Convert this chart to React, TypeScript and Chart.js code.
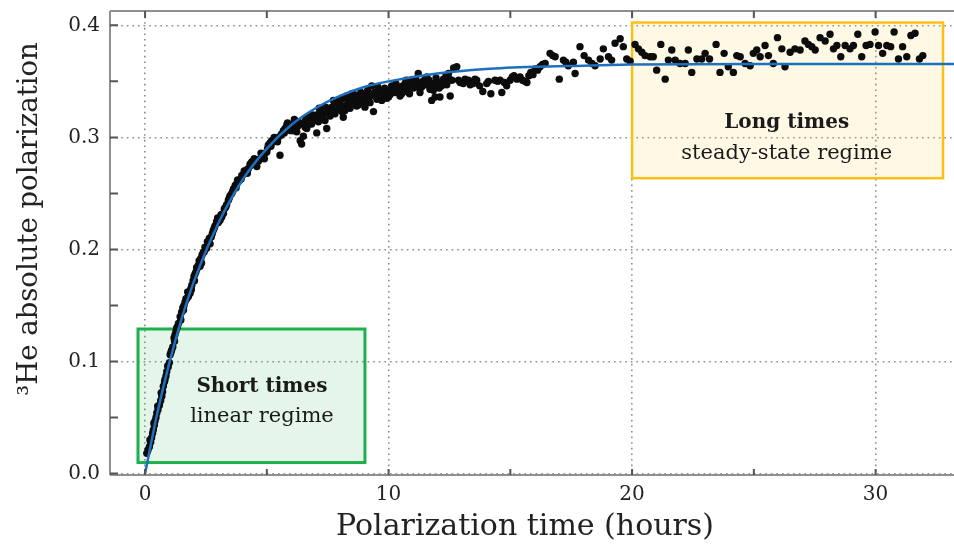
import React, { useEffect, useRef } from "react";
import { Chart, registerables } from "chart.js";

Chart.register(...registerables);

// ---- Measured data (hours, absolute polarization) ----
const timeHours = [
  0.07, 0.12, 0.18, 0.23, 0.27, 0.31, 0.34, 0.38, 0.41, 0.45, 0.48, 0.53, 0.59, 0.64, 0.69, 0.72, 0.75, 0.82, 0.86, 0.89,
  0.95, 1.0, 1.03, 1.09, 1.14, 1.19, 1.23, 1.27, 1.33, 1.37, 1.44, 1.5, 1.55, 1.6, 1.64, 1.71, 1.78, 1.85, 1.88, 1.92,
  1.97, 2.01, 2.05, 2.09, 2.14, 2.19, 2.26, 2.29, 2.34, 2.39, 2.46, 2.53, 2.6, 2.67, 2.72, 2.8, 2.87, 2.94, 3.01, 3.08,
  3.15, 3.22, 3.28, 3.35, 3.42, 3.49, 3.56, 3.63, 3.7, 3.77, 3.84, 3.9, 3.97, 4.04, 4.1, 4.17, 4.24, 4.31, 4.38, 4.45,
  4.52, 4.59, 4.66, 4.72, 4.79, 4.86, 4.93, 5.0, 5.06, 5.13, 5.2, 5.27, 5.34, 5.4, 5.47, 5.54, 5.61, 5.68, 5.75, 5.82,
  5.88, 5.95, 6.02, 6.09, 6.09, 6.16, 6.23, 6.23, 6.3, 6.37, 6.43, 6.5, 6.57, 6.64, 6.71, 6.78, 6.84, 6.91, 6.98, 7.05,
  7.05, 7.12, 7.19, 7.19, 7.26, 7.32, 7.39, 7.46, 7.53, 7.6, 7.67, 7.73, 7.8, 7.87, 7.94, 8.01, 8.08, 8.14, 8.21, 8.28,
  8.35, 8.42, 8.49, 8.55, 8.62, 8.69, 8.76, 8.83, 8.9, 8.97, 9.03, 9.1, 9.17, 9.24, 9.31, 9.38, 9.45, 9.52, 9.58, 9.65,
  9.72, 9.79, 9.86, 9.92, 9.99, 10.06, 10.13, 10.2, 10.27, 10.34, 10.4, 10.47, 10.54, 10.61, 10.68, 10.75, 10.81, 10.88, 10.95, 11.02,
  11.09, 11.16, 11.22, 11.29, 11.36, 11.43, 11.5, 11.57, 11.63, 11.7, 11.77, 11.84, 11.91, 11.98, 12.05, 12.11, 12.18, 12.25, 12.32, 12.39,
  12.46, 12.53, 12.6, 12.67, 12.8, 12.87, 12.94, 13.07, 13.14, 13.28, 13.35, 13.48, 13.55, 13.62, 13.74, 13.87, 14.03, 14.1, 14.2, 14.37,
  14.48, 14.58, 14.65, 14.75, 14.85, 14.99, 15.08, 15.15, 15.27, 15.4, 15.5, 15.6, 15.68, 15.76, 15.84, 15.93, 16.02, 16.12, 16.22, 16.32,
  16.43, 16.63, 16.74, 16.84, 17.01, 17.18, 17.28, 17.38, 17.59, 17.66, 17.86, 18.03, 18.21, 18.35, 18.48, 18.69, 18.82, 19.03, 19.16, 19.3,
  19.51, 19.64, 19.78, 19.92, 20.12, 20.26, 20.4, 20.53, 20.74, 20.87, 21.01, 21.18, 21.36, 21.49, 21.63, 21.77, 21.97, 22.18, 22.31, 22.45,
  22.66, 22.86, 23.0, 23.18, 23.45, 23.61, 23.78, 23.95, 24.16, 24.3, 24.44, 24.64, 24.85, 24.98, 25.12, 25.26, 25.46, 25.6, 25.8, 25.97,
  26.15, 26.28, 26.49, 26.69, 26.9, 27.1, 27.24, 27.38, 27.52, 27.72, 27.93, 28.13, 28.27, 28.41, 28.57, 28.75, 28.95, 29.09, 29.27, 29.43,
  29.61, 29.77, 29.98, 30.12, 30.29, 30.46, 30.62, 30.76, 30.94, 31.11, 31.28, 31.45, 31.62, 31.8, 31.94,
  // second, overlapping run of readings in the dense band
  0.2, 0.36, 0.52, 0.66, 0.8, 0.93, 1.06, 1.21, 1.3, 1.47, 1.58, 1.68, 1.75, 1.9, 2.03, 2.12, 2.22, 2.32, 2.43, 2.56,
  2.64, 2.76, 2.84, 2.98, 3.12, 3.25, 3.32, 3.46, 3.6, 3.74, 3.8, 3.95, 4.07, 4.2, 4.34, 4.48, 4.62, 4.76, 4.9, 5.03,
  5.17, 5.3, 5.44, 5.58, 5.72, 5.85, 5.98, 6.13, 6.27, 6.46, 6.6, 6.74, 6.88, 7.0, 7.15, 7.3, 7.42, 7.57, 7.7, 7.9,
  8.05, 8.18, 8.32, 8.45, 8.6, 8.72, 8.86, 9.0, 9.14, 9.28, 9.42, 9.56, 9.7, 9.84, 10.0, 10.16, 10.3, 10.44, 10.58, 10.72,
  10.86, 11.0, 11.12, 11.26, 11.4, 11.54, 11.66, 11.8, 11.95, 12.08, 12.22, 12.36, 12.5,
];

const polarization = [
  0.018, 0.021, 0.024, 0.028, 0.032, 0.036, 0.039, 0.043, 0.047, 0.05, 0.054, 0.057, 0.061, 0.065, 0.069, 0.073, 0.078, 0.084, 0.087, 0.091,
  0.095, 0.099, 0.106, 0.11, 0.113, 0.121, 0.124, 0.127, 0.131, 0.134, 0.14, 0.144, 0.148, 0.15, 0.153, 0.156, 0.158, 0.161, 0.165, 0.168,
  0.172, 0.176, 0.178, 0.18, 0.183, 0.186, 0.185, 0.192, 0.195, 0.197, 0.202, 0.201, 0.205, 0.205, 0.211, 0.217, 0.221, 0.225, 0.224, 0.226,
  0.229, 0.232, 0.237, 0.24, 0.244, 0.248, 0.25, 0.254, 0.257, 0.259, 0.261, 0.262, 0.266, 0.267, 0.269, 0.271, 0.272, 0.276, 0.278, 0.279,
  0.277, 0.274, 0.279, 0.281, 0.283, 0.284, 0.286, 0.287, 0.293, 0.295, 0.297, 0.296, 0.297, 0.299, 0.3, 0.284, 0.303, 0.306, 0.308, 0.311,
  0.308, 0.309, 0.311, 0.312, 0.306, 0.309, 0.314, 0.305, 0.314, 0.297, 0.294, 0.301, 0.309, 0.308, 0.318, 0.318, 0.312, 0.315, 0.318, 0.32,
  0.304, 0.314, 0.323, 0.317, 0.316, 0.321, 0.315, 0.308, 0.324, 0.319, 0.327, 0.333, 0.321, 0.333, 0.325, 0.329, 0.323, 0.318, 0.324, 0.337,
  0.33, 0.326, 0.339, 0.331, 0.333, 0.328, 0.329, 0.335, 0.332, 0.338, 0.327, 0.333, 0.336, 0.331, 0.346, 0.323, 0.337, 0.334, 0.342, 0.336,
  0.333, 0.34, 0.339, 0.335, 0.342, 0.338, 0.346, 0.341, 0.34, 0.344, 0.345, 0.337, 0.339, 0.343, 0.348, 0.341, 0.343, 0.347, 0.351, 0.344,
  0.346, 0.349, 0.357, 0.34, 0.345, 0.348, 0.352, 0.354, 0.347, 0.343, 0.333, 0.342, 0.336, 0.345, 0.349, 0.336, 0.346, 0.352, 0.351, 0.347,
  0.357, 0.337, 0.351, 0.362, 0.363, 0.351, 0.349, 0.348, 0.352, 0.351, 0.347, 0.348, 0.352, 0.351, 0.346, 0.341, 0.348, 0.35, 0.339, 0.351,
  0.35, 0.351, 0.34, 0.349, 0.346, 0.351, 0.354, 0.355, 0.352, 0.354, 0.351, 0.35, 0.349, 0.355, 0.358, 0.356, 0.361, 0.36, 0.363, 0.365,
  0.366, 0.375, 0.373, 0.372, 0.352, 0.369, 0.367, 0.364, 0.367, 0.357, 0.381, 0.373, 0.369, 0.366, 0.364, 0.37, 0.379, 0.372, 0.369, 0.384,
  0.388, 0.381, 0.37, 0.368, 0.383, 0.379, 0.376, 0.373, 0.372, 0.372, 0.36, 0.383, 0.352, 0.369, 0.378, 0.369, 0.366, 0.366, 0.378, 0.358,
  0.37, 0.37, 0.375, 0.37, 0.383, 0.358, 0.375, 0.363, 0.358, 0.373, 0.372, 0.366, 0.364, 0.375, 0.378, 0.372, 0.382, 0.373, 0.366, 0.389,
  0.379, 0.363, 0.376, 0.379, 0.378, 0.386, 0.383, 0.381, 0.378, 0.389, 0.386, 0.392, 0.379, 0.382, 0.372, 0.382, 0.379, 0.382, 0.392, 0.372,
  0.382, 0.383, 0.394, 0.382, 0.375, 0.382, 0.381, 0.394, 0.37, 0.381, 0.372, 0.391, 0.393, 0.37, 0.373,
  // second run
  0.03, 0.045, 0.06, 0.072, 0.082, 0.096, 0.108, 0.118, 0.13, 0.137, 0.146, 0.156, 0.162, 0.164, 0.172, 0.184, 0.19, 0.188, 0.198, 0.207,
  0.21, 0.214, 0.219, 0.228, 0.231, 0.236, 0.238, 0.246, 0.252, 0.255, 0.262, 0.263, 0.27, 0.268, 0.275, 0.281, 0.28, 0.286, 0.281, 0.29,
  0.292, 0.3, 0.296, 0.302, 0.304, 0.313, 0.306, 0.316, 0.31, 0.312, 0.316, 0.312, 0.32, 0.316, 0.326, 0.318, 0.327, 0.321, 0.323, 0.33,
  0.334, 0.328, 0.333, 0.333, 0.338, 0.336, 0.34, 0.339, 0.342, 0.337, 0.34, 0.345, 0.339, 0.344, 0.336, 0.343, 0.348, 0.342, 0.346, 0.351,
  0.339, 0.347, 0.352, 0.344, 0.35, 0.347, 0.351, 0.348, 0.353, 0.344, 0.349, 0.355, 0.352,
];

// ---- Fit curve ----
const fitTime = [0, 0.5, 1, 1.5, 2, 3, 4, 5, 6, 7, 8, 9, 10, 12, 14, 16, 18, 20, 25, 30, 34];
const fitPolarization = [
  0.0, 0.0535, 0.099, 0.138, 0.171, 0.223, 0.262, 0.29, 0.311, 0.326, 0.337, 0.345, 0.35, 0.357, 0.361, 0.363, 0.364,
  0.365, 0.3655, 0.3655, 0.3655,
];

// ---- Axes ----
const xGridValues = [0, 5, 10, 15, 20, 25, 30];
const xLabelValues = [0, 10, 20, 30];
const yGridValues = [0, 0.05, 0.1, 0.15, 0.2, 0.25, 0.3, 0.35, 0.4];
const yLabelValues = [0.0, 0.1, 0.2, 0.3, 0.4];

const xTitle = "Polarization time (hours)";
const yTitle = "\u00B3He absolute polarization";

// annotation boxes (data coordinates)
const annotations = [
  {
    x0: -0.29, x1: 9.03, y0: 0.0098, y1: 0.129,
    stroke: "#1eb04d", fill: "rgba(34,177,76,0.12)", lineWidth: 3,
    title: "Short times", subtitle: "linear regime",
    tx: 4.8, ty1: 0.0775, ty2: 0.0508,
  },
  {
    x0: 20.0, x1: 32.77, y0: 0.2636, y1: 0.4025,
    stroke: "#fbbf17", fill: "rgba(255,196,30,0.12)", lineWidth: 2.5,
    title: "Long times", subtitle: "steady-state regime",
    tx: 26.35, ty1: 0.3134, ty2: 0.2858,
  },
];

const FONT = "'DejaVu Serif', 'Liberation Serif', serif";

const overlayPlugin = {
  id: "overlay",
  beforeDatasetsDraw(chart: any) {
    const { ctx, scales } = chart;
    const x = scales.x, y = scales.y;
    ctx.save();
    for (const b of annotations) {
      const l = x.getPixelForValue(b.x0), r = x.getPixelForValue(b.x1);
      const t = y.getPixelForValue(b.y1), btm = y.getPixelForValue(b.y0);
      ctx.fillStyle = b.fill;
      ctx.fillRect(l, t, r - l, btm - t);
      ctx.strokeStyle = b.stroke;
      ctx.lineWidth = b.lineWidth;
      ctx.strokeRect(l, t, r - l, btm - t);
    }
    ctx.restore();
  },
  afterDatasetsDraw(chart: any) {
    const { ctx, scales, chartArea } = chart;
    const x = scales.x, y = scales.y;
    ctx.save();
    ctx.fillStyle = "#1a1a1a";
    ctx.textAlign = "center";
    ctx.textBaseline = "middle";
    for (const b of annotations) {
      const cx = x.getPixelForValue(b.tx);
      ctx.font = `bold 20px ${FONT}`;
      ctx.fillText(b.title, cx, y.getPixelForValue(b.ty1));
      ctx.font = `21px ${FONT}`;
      ctx.fillText(b.subtitle, cx, y.getPixelForValue(b.ty2));
    }
    const { left, top, bottom } = chartArea;
    const right = chart.width;
    ctx.strokeStyle = "#8f8f8f";
    ctx.lineWidth = 2;
    ctx.beginPath();
    ctx.moveTo(left, top); ctx.lineTo(right, top);
    ctx.moveTo(left, top); ctx.lineTo(left, bottom);
    ctx.moveTo(left, bottom); ctx.lineTo(right, bottom);
    ctx.stroke();
    ctx.strokeStyle = "#555";
    ctx.lineWidth = 2;
    ctx.beginPath();
    for (const v of xGridValues) {
      const px = x.getPixelForValue(v);
      ctx.moveTo(px, top); ctx.lineTo(px, top + 7);
      ctx.moveTo(px, bottom); ctx.lineTo(px, bottom - 6);
    }
    for (const v of yGridValues) {
      const py = y.getPixelForValue(v);
      ctx.moveTo(left, py); ctx.lineTo(left + 8, py);
    }
    ctx.stroke();
    ctx.restore();
  },
  afterDraw(chart: any) {
    const { ctx } = chart;
    ctx.save();
    ctx.fillStyle = "#222";
    ctx.textAlign = "center";
    ctx.textBaseline = "middle";
    ctx.font = `30px ${FONT}`;
    ctx.fillText(xTitle, 525, 527);
    ctx.translate(30, 219);
    ctx.rotate(-Math.PI / 2);
    ctx.font = `27.5px ${FONT}`;
    ctx.fillText(yTitle, 0, 0);
    ctx.restore();
  },
};

const near = (v: number, list: number[]) => list.some((u) => Math.abs(u - v) < 1e-6);

export default function App() {
  const ref = useRef<HTMLCanvasElement | null>(null);
  useEffect(() => {
    const canvas = ref.current;
    if (!canvas) return;
    const points = timeHours.map((t, i) => ({ x: t, y: polarization[i] }));
    const fit = fitTime.map((t, i) => ({ x: t, y: fitPolarization[i] }));
    const chart = new Chart(canvas, {
      type: "scatter",
      data: {
        datasets: [
          {
            label: "fit",
            data: fit,
            showLine: true,
            borderColor: "#1f6fc1",
            borderWidth: 2.5,
            pointRadius: 0,
            cubicInterpolationMode: "monotone",
            order: 0,
          } as any,
          {
            label: "data",
            data: points,
            backgroundColor: "#0c0c0c",
            borderWidth: 0,
            pointRadius: 3.7,
            order: 1,
          },
        ],
      },
      options: {
        responsive: false,
        animation: false,
        devicePixelRatio: 1,
        layout: { autoPadding: false, padding: { top: 11, right: 0, left: 0, bottom: 0 } },
        plugins: { legend: { display: false }, tooltip: { enabled: false } },
        scales: {
          x: {
            type: "linear",
            min: -1.44,
            max: 33.22,
            afterBuildTicks: (s: any) => {
              s.ticks = xGridValues.map((v) => ({ value: v }));
            },
            afterFit: (s: any) => {
              s.height = 73;
              s.paddingLeft = 0;
              s.paddingRight = 0;
            },
            ticks: {
              autoSkip: false,
              maxRotation: 0,
              padding: 8,
              color: "#222",
              font: { family: FONT, size: 20 },
              callback: (v: any) => (near(Number(v), xLabelValues) ? String(Math.round(Number(v))) : null),
            },
            grid: { color: "#8e8e8e", lineWidth: 1.6, drawTicks: false },
            border: { display: false, dash: [1.6, 4] },
          },
          y: {
            type: "linear",
            min: -0.0013,
            max: 0.4128,
            afterBuildTicks: (s: any) => {
              s.ticks = yGridValues.map((v) => ({ value: v }));
            },
            afterFit: (s: any) => {
              s.width = 110;
              s.paddingTop = 0;
              s.paddingBottom = 0;
            },
            ticks: {
              autoSkip: false,
              padding: 10,
              color: "#222",
              font: { family: FONT, size: 20 },
              callback: (v: any) => (near(Number(v), yLabelValues) ? Number(v).toFixed(1) : null),
            },
            grid: { color: "#8e8e8e", lineWidth: 1.6, drawTicks: false },
            border: { display: false, dash: [1.6, 4] },
          },
        },
      } as any,
      plugins: [overlayPlugin],
    });
    return () => chart.destroy();
  }, []);
  return (
    <div style={{ position: "fixed", left: 0, top: 0, width: 954, height: 548, background: "#fff" }}>
      <canvas ref={ref} width={954} height={548} style={{ display: "block", width: 954, height: 548 }} />
    </div>
  );
}
